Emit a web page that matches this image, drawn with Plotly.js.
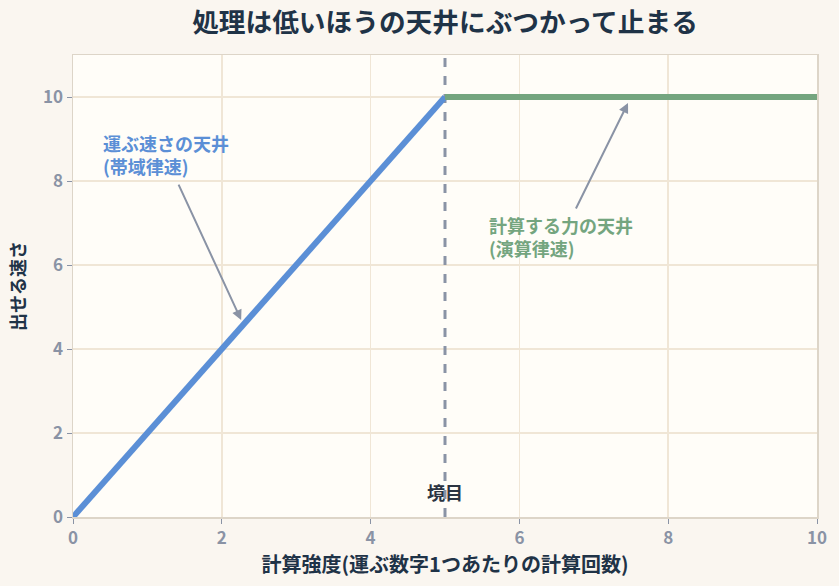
<!DOCTYPE html>
<html>
<head>
<meta charset="utf-8">
<script src="https://cdn.plot.ly/plotly-3.0.1.min.js"></script>
<style>html,body{margin:0;padding:0;background:#faf6f0;}#chart{width:839px;height:586px;}</style>
</head>
<body>
<div id="chart"></div>
<script>
// data
var memX = [0, 5];
var memY = [0, 10];
var compX = [5, 10];
var compY = [10, 10];
var ridgeX = [5, 5];
var ridgeY = [0, 11];
var xTicks = [0, 2, 4, 6, 8, 10];
var yTicks = [0, 2, 4, 6, 8, 10];

var FONT = '"Noto Sans CJK JP", "Noto Sans", sans-serif';
var GRAY = '#8a93a5';
var DARK = '#1f3347';

var traces = [
  {x: ridgeX, y: ridgeY, mode: 'lines', line: {color: GRAY, width: 3, dash: 'dash'}, hoverinfo: 'skip', showlegend: false},
  {x: memX, y: memY, mode: 'lines', line: {color: '#5b8fd6', width: 6}, showlegend: false},
  {x: compX, y: compY, mode: 'lines', line: {color: '#74a57f', width: 6}, showlegend: false}
];

var layout = {
  width: 839, height: 586,
  paper_bgcolor: '#faf6f0',
  plot_bgcolor: '#fffdf8',
  margin: {l: 73, r: 22, t: 55, b: 69},
  font: {family: FONT},
  title: {text: '<b>処理は低いほうの天井にぶつかって止まる</b>', xref: 'paper', x: 0.5, xanchor: 'center', y: 0.962, yanchor: 'middle', font: {size: 26.7, color: DARK, family: FONT}},
  xaxis: {
    range: [0, 10], tickvals: xTicks, ticktext: xTicks.map(String),
    showgrid: true, gridcolor: '#f0e6d6', gridwidth: 1.5,
    zeroline: false, showline: true, linecolor: '#ddd5c8', linewidth: 1.5, mirror: true,
    ticks: 'outside', ticklen: 5, tickcolor: GRAY,
    tickfont: {size: 17, color: GRAY, family: FONT, weight: 'bold'},
    title: {text: '<b>計算強度(運ぶ数字1つあたりの計算回数)</b>', font: {size: 20, color: DARK, family: FONT}, standoff: 6}
  },
  yaxis: {
    range: [0, 11], tickvals: yTicks, ticktext: yTicks.map(String),
    showgrid: true, gridcolor: '#f0e6d6', gridwidth: 1.5,
    zeroline: false, showline: true, linecolor: '#ddd5c8', linewidth: 1.5, mirror: true,
    ticks: 'outside', ticklen: 5, tickcolor: GRAY,
    tickfont: {size: 17, color: GRAY, family: FONT, weight: 'bold'},
    title: {text: '<b>出せる速さ</b>', font: {size: 18, color: DARK, family: FONT}, standoff: 12}
  },
  annotations: [
    {x: 0.38, y: 8.62, xref: 'x', yref: 'y', xanchor: 'left', yanchor: 'middle', align: 'left', showarrow: false,
     text: '<b>運ぶ速さの天井<br>(帯域律速)</b>', font: {size: 18, color: '#5b8fd6', family: FONT}},
    {x: 2.26, y: 4.69, ax: 1.41, ay: 7.95, xref: 'x', yref: 'y', axref: 'x', ayref: 'y', text: '', showarrow: true,
     arrowhead: 2, arrowsize: 1, arrowwidth: 2, arrowcolor: GRAY},
    {x: 5.56, y: 6.69, xref: 'x', yref: 'y', xanchor: 'left', yanchor: 'middle', align: 'left', showarrow: false,
     text: '<b>計算する力の天井<br>(演算律速)</b>', font: {size: 18, color: '#74a57f', family: FONT}},
    {x: 7.46, y: 9.86, ax: 6.75, ay: 7.31, xref: 'x', yref: 'y', axref: 'x', ayref: 'y', text: '', showarrow: true,
     arrowhead: 2, arrowsize: 1, arrowwidth: 2, arrowcolor: GRAY},
    {x: 5, y: 0.6, xref: 'x', yref: 'y', xanchor: 'center', yanchor: 'middle', showarrow: false,
     text: '<b>境目</b>', font: {size: 18, color: '#2b3442', family: FONT}}
  ]
};

Plotly.newPlot('chart', traces, layout, {displayModeBar: false, staticPlot: true});
</script>
</body>
</html>
